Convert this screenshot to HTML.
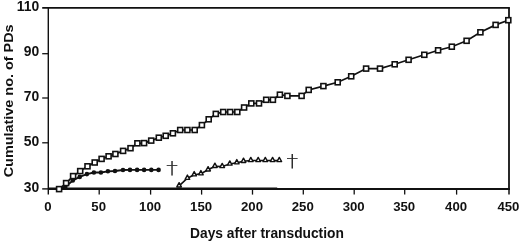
<!DOCTYPE html>
<html><head><meta charset="utf-8"><title>Cumulative PDs</title>
<style>
html,body{margin:0;padding:0;background:#fff;}
svg{display:block;}
text{font-family:"Liberation Sans",sans-serif;fill:#111;}
.tk{font-size:13.2px;font-weight:bold;}
.ty{font-size:13.9px;font-weight:bold;}
.tt{font-size:13.78px;font-weight:bold;}
</style></head><body>
<svg width="520" height="243" viewBox="0 0 520 243">
<rect width="520" height="243" fill="#fff"/>

<g stroke="#111" fill="none">
<path d="M42.2 7.9H509.9" stroke-width="1.8"/>
<path d="M509 7.9V189.9" stroke-width="1.8"/>
<path d="M48.3 188.95H509.9" stroke-width="1.9"/>
<path d="M42.2 188.9H48.3" stroke-width="1.4"/>
<path d="M48.3 7V194.5" stroke-width="1.4"/>
<path d="M42.2 53.7H48.3" stroke-width="1.3"/>
<path d="M42.2 98.0H48.3" stroke-width="1.3"/>
<path d="M42.2 142.8H48.3" stroke-width="1.3"/>
<path d="M99.2 189V194.6" stroke-width="1.3"/>
<path d="M150.6 189V194.6" stroke-width="1.3"/>
<path d="M201.6 189V194.6" stroke-width="1.3"/>
<path d="M252.5 189V194.6" stroke-width="1.3"/>
<path d="M303.3 189V194.6" stroke-width="1.3"/>
<path d="M354.2 189V194.6" stroke-width="1.3"/>
<path d="M404.7 189V194.6" stroke-width="1.3"/>
<path d="M456.6 189V194.6" stroke-width="1.3"/>
<path d="M509 189V194.6" stroke-width="1.5"/>
</g>
<path d="M48.3 188.7H277.2" stroke="#111" stroke-width="2.4"/>
<polyline points="59.1,189.1 65.3,187.0 72.8,180.5 79.7,176.9 86.9,174.1 93.9,172.5 100.9,172.5 107.9,171.3 115.0,171.0 123.0,170.0 130.0,169.9 137.1,169.9 144.1,169.9 151.3,169.9 158.6,169.9" fill="none" stroke="#111" stroke-width="1.8"/>
<circle cx="65.3" cy="187.0" r="2.3" fill="#111"/>
<circle cx="72.8" cy="180.5" r="2.3" fill="#111"/>
<circle cx="79.7" cy="176.9" r="2.3" fill="#111"/>
<circle cx="86.9" cy="174.1" r="2.3" fill="#111"/>
<circle cx="93.9" cy="172.5" r="2.3" fill="#111"/>
<circle cx="100.9" cy="172.5" r="2.3" fill="#111"/>
<circle cx="107.9" cy="171.3" r="2.3" fill="#111"/>
<circle cx="115.0" cy="171.0" r="2.3" fill="#111"/>
<circle cx="123.0" cy="170.0" r="2.3" fill="#111"/>
<circle cx="130.0" cy="169.9" r="2.3" fill="#111"/>
<circle cx="137.1" cy="169.9" r="2.3" fill="#111"/>
<circle cx="144.1" cy="169.9" r="2.3" fill="#111"/>
<circle cx="151.3" cy="169.9" r="2.3" fill="#111"/>
<circle cx="158.6" cy="169.9" r="2.3" fill="#111"/>
<polyline points="179.1,185.8 187.4,178.2 194.2,174.7 200.9,173.7 208.1,169.8 214.9,166.3 222.2,166.5 229.8,164.0 236.8,162.7 243.5,161.3 250.8,160.5 258.2,160.5 265.3,160.5 272.6,160.5 279.3,160.5" fill="none" stroke="#111" stroke-width="1.6"/>
<path d="M176.80 186.95L179.10 182.70L181.40 186.95Z" fill="#fff" stroke="#111" stroke-width="1.4" stroke-linejoin="round"/>
<path d="M185.10 179.35L187.40 175.10L189.70 179.35Z" fill="#fff" stroke="#111" stroke-width="1.4" stroke-linejoin="round"/>
<path d="M191.90 175.85L194.20 171.60L196.50 175.85Z" fill="#fff" stroke="#111" stroke-width="1.4" stroke-linejoin="round"/>
<path d="M198.60 174.85L200.90 170.60L203.20 174.85Z" fill="#fff" stroke="#111" stroke-width="1.4" stroke-linejoin="round"/>
<path d="M205.80 170.95L208.10 166.70L210.40 170.95Z" fill="#fff" stroke="#111" stroke-width="1.4" stroke-linejoin="round"/>
<path d="M212.60 167.45L214.90 163.20L217.20 167.45Z" fill="#fff" stroke="#111" stroke-width="1.4" stroke-linejoin="round"/>
<path d="M219.90 167.65L222.20 163.40L224.50 167.65Z" fill="#fff" stroke="#111" stroke-width="1.4" stroke-linejoin="round"/>
<path d="M227.50 165.15L229.80 160.90L232.10 165.15Z" fill="#fff" stroke="#111" stroke-width="1.4" stroke-linejoin="round"/>
<path d="M234.50 163.85L236.80 159.60L239.10 163.85Z" fill="#fff" stroke="#111" stroke-width="1.4" stroke-linejoin="round"/>
<path d="M241.20 162.45L243.50 158.20L245.80 162.45Z" fill="#fff" stroke="#111" stroke-width="1.4" stroke-linejoin="round"/>
<path d="M248.50 161.65L250.80 157.40L253.10 161.65Z" fill="#fff" stroke="#111" stroke-width="1.4" stroke-linejoin="round"/>
<path d="M255.90 161.65L258.20 157.40L260.50 161.65Z" fill="#fff" stroke="#111" stroke-width="1.4" stroke-linejoin="round"/>
<path d="M263.00 161.65L265.30 157.40L267.60 161.65Z" fill="#fff" stroke="#111" stroke-width="1.4" stroke-linejoin="round"/>
<path d="M270.30 161.65L272.60 157.40L274.90 161.65Z" fill="#fff" stroke="#111" stroke-width="1.4" stroke-linejoin="round"/>
<path d="M277.00 161.65L279.30 157.40L281.60 161.65Z" fill="#fff" stroke="#111" stroke-width="1.4" stroke-linejoin="round"/>
<polyline points="59.1,189.1 66.1,183.1 73.1,176.1 80.2,171.1 87.5,166.3 94.7,162.5 101.6,158.9 108.6,156.3 115.4,154.0 123.1,150.9 130.5,148.2 137.4,143.3 144.1,143.1 151.2,140.6 158.8,137.7 165.7,135.8 172.9,133.3 180.2,130.0 187.4,130.0 194.7,130.0 201.9,125.1 208.7,119.3 215.8,113.9 223.2,112.0 230.2,112.0 237.3,112.0 244.1,107.5 251.3,103.4 259.0,103.4 266.2,99.8 272.9,99.8 279.9,94.7 287.4,95.9 301.6,95.9 308.7,89.9 323.4,86.1 337.7,82.3 351.2,76.3 366.1,68.6 380.0,68.6 394.7,64.3 408.6,59.8 424.3,54.8 438.1,50.3 451.8,46.7 466.6,40.8 480.4,32.3 495.6,24.9 508.3,20.2" fill="none" stroke="#111" stroke-width="1.7"/>
<rect x="56.6" y="186.6" width="5" height="5" fill="#fff" stroke="#111" stroke-width="1.6"/>
<rect x="63.6" y="180.6" width="5" height="5" fill="#fff" stroke="#111" stroke-width="1.6"/>
<rect x="70.6" y="173.6" width="5" height="5" fill="#fff" stroke="#111" stroke-width="1.6"/>
<rect x="77.7" y="168.6" width="5" height="5" fill="#fff" stroke="#111" stroke-width="1.6"/>
<rect x="85.0" y="163.8" width="5" height="5" fill="#fff" stroke="#111" stroke-width="1.6"/>
<rect x="92.2" y="160.0" width="5" height="5" fill="#fff" stroke="#111" stroke-width="1.6"/>
<rect x="99.1" y="156.4" width="5" height="5" fill="#fff" stroke="#111" stroke-width="1.6"/>
<rect x="106.1" y="153.8" width="5" height="5" fill="#fff" stroke="#111" stroke-width="1.6"/>
<rect x="112.9" y="151.5" width="5" height="5" fill="#fff" stroke="#111" stroke-width="1.6"/>
<rect x="120.6" y="148.4" width="5" height="5" fill="#fff" stroke="#111" stroke-width="1.6"/>
<rect x="128.0" y="145.7" width="5" height="5" fill="#fff" stroke="#111" stroke-width="1.6"/>
<rect x="134.9" y="140.8" width="5" height="5" fill="#fff" stroke="#111" stroke-width="1.6"/>
<rect x="141.6" y="140.6" width="5" height="5" fill="#fff" stroke="#111" stroke-width="1.6"/>
<rect x="148.7" y="138.1" width="5" height="5" fill="#fff" stroke="#111" stroke-width="1.6"/>
<rect x="156.3" y="135.2" width="5" height="5" fill="#fff" stroke="#111" stroke-width="1.6"/>
<rect x="163.2" y="133.3" width="5" height="5" fill="#fff" stroke="#111" stroke-width="1.6"/>
<rect x="170.4" y="130.8" width="5" height="5" fill="#fff" stroke="#111" stroke-width="1.6"/>
<rect x="177.7" y="127.5" width="5" height="5" fill="#fff" stroke="#111" stroke-width="1.6"/>
<rect x="184.9" y="127.5" width="5" height="5" fill="#fff" stroke="#111" stroke-width="1.6"/>
<rect x="192.2" y="127.5" width="5" height="5" fill="#fff" stroke="#111" stroke-width="1.6"/>
<rect x="199.4" y="122.6" width="5" height="5" fill="#fff" stroke="#111" stroke-width="1.6"/>
<rect x="206.2" y="116.8" width="5" height="5" fill="#fff" stroke="#111" stroke-width="1.6"/>
<rect x="213.3" y="111.4" width="5" height="5" fill="#fff" stroke="#111" stroke-width="1.6"/>
<rect x="220.7" y="109.5" width="5" height="5" fill="#fff" stroke="#111" stroke-width="1.6"/>
<rect x="227.7" y="109.5" width="5" height="5" fill="#fff" stroke="#111" stroke-width="1.6"/>
<rect x="234.8" y="109.5" width="5" height="5" fill="#fff" stroke="#111" stroke-width="1.6"/>
<rect x="241.6" y="105.0" width="5" height="5" fill="#fff" stroke="#111" stroke-width="1.6"/>
<rect x="248.8" y="100.9" width="5" height="5" fill="#fff" stroke="#111" stroke-width="1.6"/>
<rect x="256.5" y="100.9" width="5" height="5" fill="#fff" stroke="#111" stroke-width="1.6"/>
<rect x="263.7" y="97.3" width="5" height="5" fill="#fff" stroke="#111" stroke-width="1.6"/>
<rect x="270.4" y="97.3" width="5" height="5" fill="#fff" stroke="#111" stroke-width="1.6"/>
<rect x="277.4" y="92.2" width="5" height="5" fill="#fff" stroke="#111" stroke-width="1.6"/>
<rect x="284.9" y="93.4" width="5" height="5" fill="#fff" stroke="#111" stroke-width="1.6"/>
<rect x="299.1" y="93.4" width="5" height="5" fill="#fff" stroke="#111" stroke-width="1.6"/>
<rect x="306.2" y="87.4" width="5" height="5" fill="#fff" stroke="#111" stroke-width="1.6"/>
<rect x="320.9" y="83.6" width="5" height="5" fill="#fff" stroke="#111" stroke-width="1.6"/>
<rect x="335.2" y="79.8" width="5" height="5" fill="#fff" stroke="#111" stroke-width="1.6"/>
<rect x="348.7" y="73.8" width="5" height="5" fill="#fff" stroke="#111" stroke-width="1.6"/>
<rect x="363.6" y="66.1" width="5" height="5" fill="#fff" stroke="#111" stroke-width="1.6"/>
<rect x="377.5" y="66.1" width="5" height="5" fill="#fff" stroke="#111" stroke-width="1.6"/>
<rect x="392.2" y="61.8" width="5" height="5" fill="#fff" stroke="#111" stroke-width="1.6"/>
<rect x="406.1" y="57.3" width="5" height="5" fill="#fff" stroke="#111" stroke-width="1.6"/>
<rect x="421.8" y="52.3" width="5" height="5" fill="#fff" stroke="#111" stroke-width="1.6"/>
<rect x="435.6" y="47.8" width="5" height="5" fill="#fff" stroke="#111" stroke-width="1.6"/>
<rect x="449.3" y="44.2" width="5" height="5" fill="#fff" stroke="#111" stroke-width="1.6"/>
<rect x="464.1" y="38.3" width="5" height="5" fill="#fff" stroke="#111" stroke-width="1.6"/>
<rect x="477.9" y="29.8" width="5" height="5" fill="#fff" stroke="#111" stroke-width="1.6"/>
<rect x="493.1" y="22.4" width="5" height="5" fill="#fff" stroke="#111" stroke-width="1.6"/>
<rect x="505.8" y="17.7" width="5" height="5" fill="#fff" stroke="#111" stroke-width="1.6"/>
<text transform="translate(171.9 174.2) scale(1.27 1)" x="-4.5" y="0" font-size="18.2" font-weight="100" fill="#000" stroke="#000" stroke-width="0.15" style="font-family:'DejaVu Sans',sans-serif">†</text>
<text transform="translate(292.1 166.5) scale(1.27 1)" x="-4.5" y="0" font-size="18.2" font-weight="100" fill="#000" stroke="#000" stroke-width="0.15" style="font-family:'DejaVu Sans',sans-serif">†</text>
<text class="ty" x="39.2" y="10.5" text-anchor="end">110</text>
<text class="ty" x="39.2" y="56.4" text-anchor="end">90</text>
<text class="ty" x="39.2" y="100.7" text-anchor="end">70</text>
<text class="ty" x="39.2" y="145.5" text-anchor="end">50</text>
<text class="ty" x="39.2" y="191.7" text-anchor="end">30</text>
<text class="tk" x="47.8" y="210.6" text-anchor="middle">0</text>
<text class="tk" x="98.7" y="210.6" text-anchor="middle">50</text>
<text class="tk" x="150.1" y="210.6" text-anchor="middle">100</text>
<text class="tk" x="201.1" y="210.6" text-anchor="middle">150</text>
<text class="tk" x="252.0" y="210.6" text-anchor="middle">200</text>
<text class="tk" x="302.8" y="210.6" text-anchor="middle">250</text>
<text class="tk" x="353.7" y="210.6" text-anchor="middle">300</text>
<text class="tk" x="404.2" y="210.6" text-anchor="middle">350</text>
<text class="tk" x="456.1" y="210.6" text-anchor="middle">400</text>
<text class="tk" x="508.4" y="210.6" text-anchor="middle">450</text>
<text class="tt" x="190.1" y="238.2">Days after transduction</text>
<text class="tt" style="font-size:14.42px" transform="translate(13.1 177.3) rotate(-90) scale(1 0.95)">Cumulative no. of PDs</text>
</svg></body></html>
